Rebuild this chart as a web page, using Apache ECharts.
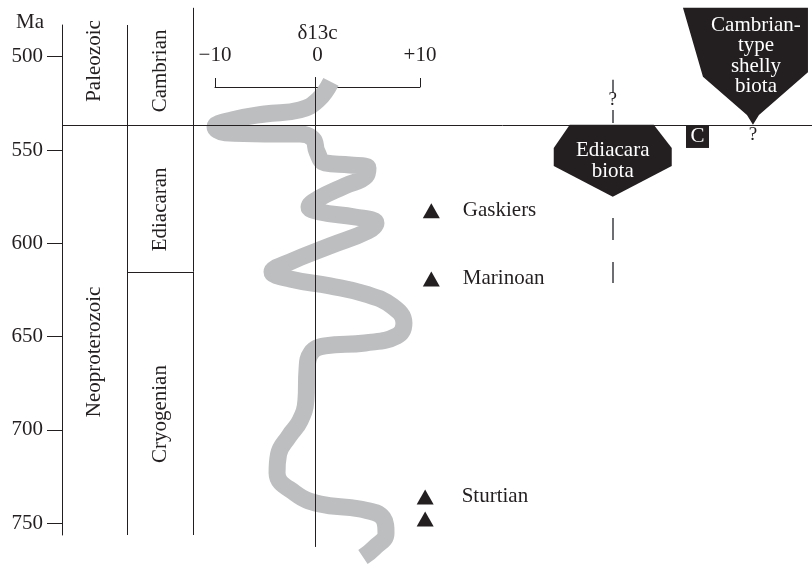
<!DOCTYPE html>
<html>
<head>
<meta charset="utf-8">
<title>δ13c – Neoproterozoic</title>
<script src="https://cdn.jsdelivr.net/npm/echarts@6/dist/echarts.min.js"></script>
<style>
    html, body { margin: 0; padding: 0; background: #fff; }
    #chart { width: 812px; height: 567px; }
</style>
</head>
<body>
<div id="chart"></div>
<script>
// time axis (Ma)
const maTicks = [500, 550, 600, 650, 700, 750];
const d13cTicks = [-10, 0, 10];

// stratigraphic columns
const eras = ['Paleozoic', 'Neoproterozoic'];
const eraLabelMa = [502.3, 658.2];
const periods = ['Cambrian', 'Ediacaran', 'Cryogenian'];
const periodLabelMa = [507.6, 581.8, 691.5];
const cambrianBaseMa = 536.5;
const cryogenianTopMa = 615.3;

// carbon isotope curve (δ13c, Ma)
const curveD13c = [1.51, 0.24, -1.51, -4.93, -8.15, -9.8, -8.83, -4.93, -1.51, -0.24, 0.15, 0.93, 3.37, 5.12, 4.93, 2.88, 0.24, -0.63, 0.44, 3.85, 5.9, 5.12, 1.41, -2.49, -4.24, -2.49, 1.41, 4.83, 7.46, 8.63, 7.95, 4.83, 0.93, -0.44, -0.83, -0.93, -1.5, -2.6, -3.6, -3.75, -2.0, 0.44, 4.34, 6.59, 6.88, 5.71, 4.63];
const curveMa = [513.5, 523.2, 528.5, 530.7, 533.9, 537.6, 540.8, 541.4, 541.4, 544.1, 551.0, 556.9, 558.0, 559.6, 563.9, 569.2, 576.2, 580.5, 583.2, 585.9, 589.1, 593.4, 601.4, 610.0, 615.3, 619.1, 622.8, 627.1, 633.5, 642.7, 649.6, 653.4, 655.0, 658.8, 667.9, 684.0, 695.0, 703.5, 713.0, 723.0, 733.8, 739.7, 742.4, 747.2, 755.3, 763.3, 768.1];

// glaciations
const glaciations = ['Gaskiers', 'Marinoan', 'Sturtian', ''];
const glaciationMa = [582.6, 619.1, 735.9, 747.7];

// biota ranges [top Ma, bottom Ma]
const biotaNames = ['Ediacara\nbiota', 'Cambrian-\ntype\nshelly\nbiota'];
const biotaTopMa = [536.5, 473.8];
const biotaBottomMa = [575.1, 536.5];
const cloudinaMa = 543.0;
const ediacaraQueryMa = 523.2;
const shellyQueryMa = 541.9;
const ediacaraDashes = [[512.4, 519.4], [528.5, 535.5], [586.4, 598.2], [610.0, 621.2]];

const INK = '#231f20';
const FONT = '"Liberation Serif", "Times New Roman", serif';
const FS = 21;

const chart = echarts.init(document.getElementById('chart'));

const yRange = { min: 483, max: 756.3 };

function seg(x1, y1, x2, y2) {
    return { coords: [[x1, y1], [x2, y2]] };
}

function biotaShape(params, api) {
    const i = params.dataIndex;
    const x = api.value(0);
    const top = api.coord([x, api.value(1)]);
    const bot = api.coord([x, api.value(2)]);
    const cx = top[0];
    const ty = top[1];
    const by = bot[1];
    const h = by - ty;
    let pts;
    let textPos;
    if (i === 0) {
        pts = [[cx - 43, ty], [cx + 41, ty], [cx + 59, ty + 0.32 * h], [cx + 59, ty + 0.57 * h],
            [cx, by], [cx - 59, ty + 0.57 * h], [cx - 59, ty + 0.32 * h]];
        textPos = [cx, ty + 36];
    } else {
        pts = [[cx - 70, ty], [cx + 55, ty], [cx + 55, ty + 0.55 * h], [cx + 6, ty + 0.915 * h],
            [cx, by], [cx - 6, ty + 0.915 * h], [cx - 50, ty + 0.59 * h]];
        textPos = [cx + 3, ty + 48];
    }
    return {
        type: 'group',
        children: [
            { type: 'polygon', shape: { points: pts }, style: { fill: INK } },
            {
                type: 'text',
                x: textPos[0],
                y: textPos[1],
                style: {
                    text: biotaNames[i],
                    fill: '#fff',
                    font: FS + 'px ' + FONT,
                    align: 'center',
                    verticalAlign: 'middle',
                    lineHeight: 20.5,
                },
            },
        ],
    };
}

const option = {
    animation: false,
    backgroundColor: '#fff',
    textStyle: { fontFamily: FONT, color: INK },
    graphic: [
        {
            type: 'text',
            left: 16,
            top: 12,
            style: { text: 'Ma', font: FS + 'px ' + FONT, fill: INK },
        },
    ],
    grid: [
        { left: 62, top: 25, width: 131, height: 510 },
        { left: 193, top: 25, right: 0, height: 510 },
        { left: 215, top: 77, width: 205, height: 10 },
    ],
    xAxis: [
        { gridIndex: 0, type: 'value', min: 0, max: 2, show: false },
        { gridIndex: 1, type: 'value', min: -11.95, max: 48.44, show: false },
        {
            gridIndex: 2,
            type: 'value',
            position: 'top',
            min: -10,
            max: 10,
            name: 'δ13c',
            nameLocation: 'middle',
            nameGap: 31,
            nameTextStyle: { fontSize: FS, fontFamily: FONT, color: INK },
            axisLine: { show: true, lineStyle: { color: INK, width: 1 } },
            axisTick: { show: true, customValues: [-10, 10], length: 9, lineStyle: { color: INK } },
            axisLabel: {
                customValues: d13cTicks,
                margin: 11,
                fontSize: FS,
                fontFamily: FONT,
                color: INK,
                formatter: (v) => (v < 0 ? '\u2212' + Math.abs(v) : v > 0 ? '+' + v : '0'),
            },
            splitLine: { show: false },
        },
    ],
    yAxis: [
        {
            gridIndex: 0,
            type: 'value',
            inverse: true,
            min: yRange.min,
            max: yRange.max,
            axisLine: { show: true, lineStyle: { color: INK, width: 1 } },
            axisTick: { show: true, customValues: maTicks, length: 15, lineStyle: { color: INK } },
            axisLabel: { customValues: maTicks, margin: 19, fontSize: FS, fontFamily: FONT, color: INK },
            splitLine: { show: false },
        },
        { gridIndex: 1, type: 'value', inverse: true, min: yRange.min, max: yRange.max, show: false },
        { gridIndex: 2, type: 'value', min: 0, max: 1, show: false },
    ],
    series: [
        // column rules
        {
            type: 'lines',
            coordinateSystem: 'cartesian2d',
            xAxisIndex: 0,
            yAxisIndex: 0,
            clip: false,
            silent: true,
            lineStyle: { color: INK, width: 1, opacity: 1 },
            data: [
                seg(1, yRange.min, 1, yRange.max),
                seg(2, 473.8, 2, yRange.max),
                seg(0, cambrianBaseMa, 2, cambrianBaseMa),
                seg(1, cryogenianTopMa, 2, cryogenianTopMa),
            ],
        },
        {
            type: 'lines',
            coordinateSystem: 'cartesian2d',
            xAxisIndex: 1,
            yAxisIndex: 1,
            clip: false,
            silent: true,
            lineStyle: { color: INK, width: 1, opacity: 1 },
            data: [
                seg(-11.95, cambrianBaseMa, 48.44, cambrianBaseMa),
                seg(0, 510.9, 0, 762.7),
            ],
        },
        // era / period names
        {
            type: 'scatter',
            xAxisIndex: 0,
            yAxisIndex: 0,
            symbolSize: 0,
            silent: true,
            itemStyle: { opacity: 1 },
            label: {
                show: true,
                position: 'inside',
                rotate: 90,
                fontSize: FS,
                fontFamily: FONT,
                color: INK,
                formatter: (p) => p.name,
            },
            data: eras.map((n, i) => ({ name: n, value: [0.5, eraLabelMa[i]] }))
                .concat(periods.map((n, i) => ({ name: n, value: [1.5, periodLabelMa[i]] }))),
        },
        // δ13c curve
        {
            type: 'line',
            xAxisIndex: 1,
            yAxisIndex: 1,
            clip: false,
            smooth: 0.45,
            symbol: 'none',
            silent: true,
            lineStyle: { color: '#bdbec0', width: 17, cap: 'butt', join: 'round' },
            data: curveD13c.map((v, i) => [v, curveMa[i]]),
            z: 1,
        },
        // glaciations
        {
            type: 'scatter',
            xAxisIndex: 1,
            yAxisIndex: 1,
            symbol: 'triangle',
            symbolSize: [17, 15],
            itemStyle: { color: INK, opacity: 1 },
            silent: true,
            label: {
                show: true,
                position: 'right',
                distance: 23,
                fontSize: FS,
                fontFamily: FONT,
                color: INK,
                formatter: (p) => p.name,
            },
            data: glaciations.map((n, i) => ({
                name: n,
                value: [i < 2 ? 11.3 : 10.7, glaciationMa[i]],
                label: i < 2 ? undefined : { distance: 28 },
            })),
        },
        // biota shapes
        {
            type: 'custom',
            xAxisIndex: 1,
            yAxisIndex: 1,
            silent: true,
            renderItem: biotaShape,
            data: biotaNames.map((n, i) => [i === 0 ? 29.0 : 42.68, biotaTopMa[i], biotaBottomMa[i]]),
        },
        // Ediacara dashed range
        {
            type: 'lines',
            coordinateSystem: 'cartesian2d',
            xAxisIndex: 1,
            yAxisIndex: 1,
            clip: false,
            silent: true,
            lineStyle: { color: '#6d6e71', width: 2, opacity: 1 },
            data: ediacaraDashes.map((d) => seg(29.0, d[0], 29.0, d[1])),
        },
        // C box and query marks
        {
            type: 'scatter',
            xAxisIndex: 1,
            yAxisIndex: 1,
            silent: true,
            symbol: 'rect',
            symbolSize: [23, 22],
            itemStyle: { color: INK, opacity: 1 },
            label: {
                show: true,
                position: 'inside',
                color: '#fff',
                fontSize: FS,
                fontFamily: FONT,
                formatter: 'C',
            },
            data: [[37.27, cloudinaMa]],
        },
        {
            type: 'scatter',
            xAxisIndex: 1,
            yAxisIndex: 1,
            silent: true,
            symbolSize: 0,
            itemStyle: { opacity: 1 },
            label: {
                show: true,
                position: 'inside',
                color: INK,
                fontSize: 19,
                fontFamily: FONT,
                formatter: '?',
            },
            data: [[29.0, ediacaraQueryMa], [42.68, shellyQueryMa]],
        },
    ],
};

chart.setOption(option);
</script>
</body>
</html>
